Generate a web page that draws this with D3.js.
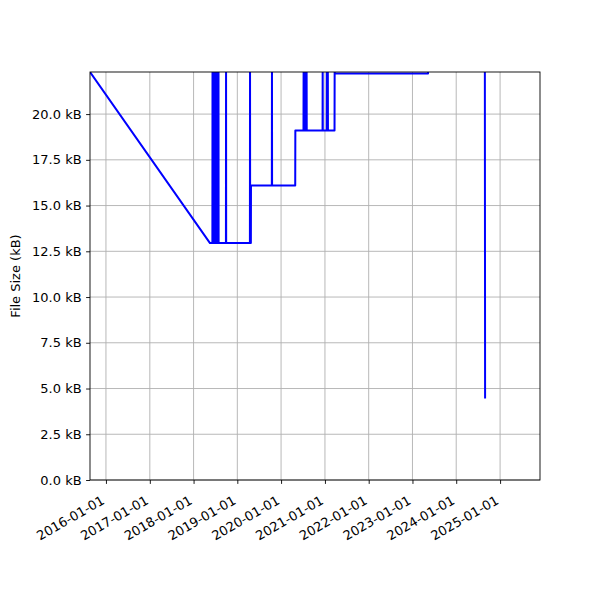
<!DOCTYPE html>
<html>
<head>
<meta charset="utf-8">
<script src="https://cdn.jsdelivr.net/npm/d3@7"></script>
<style>
    body { margin: 0; background: #fff; }
    text { font-family: "DejaVu Sans", sans-serif; font-size: 13px; fill: #000; }
</style>
</head>
<body>
<svg id="chart" width="600" height="600"></svg>
<script>
// commit dates and file size in kB
var dates = [
    "2015-08-21", "2018-05-18",
    "2018-06-07", "2018-06-08", "2018-06-09",
    "2018-06-15", "2018-06-16", "2018-06-17",
    "2018-06-24", "2018-06-25", "2018-06-26",
    "2018-07-02", "2018-07-03", "2018-07-04",
    "2018-07-11", "2018-07-12", "2018-07-13",
    "2018-07-19", "2018-07-20", "2018-07-21",
    "2018-07-27", "2018-07-28", "2018-07-29",
    "2018-09-28", "2018-09-29", "2018-09-30",
    "2019-04-16", "2019-04-17", "2019-04-18",
    "2019-04-24", "2019-04-25",
    "2019-10-16", "2019-10-17", "2019-10-18",
    "2020-04-28", "2020-04-29",
    "2020-07-06", "2020-07-07", "2020-07-08",
    "2020-07-14", "2020-07-15", "2020-07-16",
    "2020-07-23", "2020-07-24", "2020-07-25",
    "2020-07-31", "2020-08-01", "2020-08-02",
    "2020-12-12", "2020-12-13", "2020-12-14",
    "2021-01-16", "2021-01-17", "2021-01-18",
    "2021-01-24", "2021-01-25", "2021-01-26",
    "2021-03-22", "2021-03-23", "2021-03-24",
    "2023-05-11", "2023-05-12",
    "2024-08-27", "2024-08-29"
];
var sizes = [
    22.3, 12.95,
    12.95, 22.6, 12.95,
    12.95, 22.6, 12.95,
    12.95, 22.6, 12.95,
    12.95, 22.6, 12.95,
    12.95, 22.6, 12.95,
    12.95, 22.6, 12.95,
    12.95, 22.6, 12.95,
    12.95, 22.6, 12.95,
    12.95, 22.6, 12.95,
    12.95, 16.1,
    16.1, 22.6, 16.1,
    16.1, 19.1,
    19.1, 22.6, 19.1,
    19.1, 22.6, 19.1,
    19.1, 22.6, 19.1,
    19.1, 22.6, 19.1,
    19.1, 22.6, 19.1,
    19.1, 22.6, 19.1,
    19.1, 22.6, 19.1,
    19.1, 22.6, 22.22,
    22.22, 22.6,
    22.6, 4.45
];
var xTicks = ["2016-01-01", "2017-01-01", "2018-01-01", "2019-01-01", "2020-01-01",
    "2021-01-01", "2022-01-01", "2023-01-01", "2024-01-01", "2025-01-01"];
var yTicks = [0, 2.5, 5, 7.5, 10, 12.5, 15, 17.5, 20];
var xStart = "2015-08-21", xEnd = "2025-11-30";
var yMax = 22.3;

(function () {
    "use strict";
    var svg, parse, data, x, y, left, right, top, bottom, tick, g, line;

    left = 90;
    right = 540;
    top = 72;
    bottom = 480;
    tick = 3.9;

    parse = d3.utcParse("%Y-%m-%d");
    data = dates.map(function (d, i) {
        return {date: parse(d), size: sizes[i]};
    });

    x = d3.scaleUtc()
        .domain([parse(xStart), parse(xEnd)])
        .range([left, right]);
    y = d3.scaleLinear()
        .domain([0, yMax])
        .range([bottom, top]);

    svg = d3.select("#chart");

    svg.append("defs").append("clipPath")
        .attr("id", "plot")
        .append("rect")
        .attr("x", left)
        .attr("y", top)
        .attr("width", right - left)
        .attr("height", bottom - top);

    // grid
    svg.append("g")
        .selectAll("line")
        .data(xTicks)
        .enter().append("line")
        .attr("x1", function (d) { return x(parse(d)); })
        .attr("x2", function (d) { return x(parse(d)); })
        .attr("y1", top)
        .attr("y2", bottom)
        .attr("stroke", "#b0b0b0")
        .attr("stroke-width", 0.9);
    svg.append("g")
        .selectAll("line")
        .data(yTicks)
        .enter().append("line")
        .attr("x1", left)
        .attr("x2", right)
        .attr("y1", function (d) { return y(d); })
        .attr("y2", function (d) { return y(d); })
        .attr("stroke", "#b0b0b0")
        .attr("stroke-width", 0.9);

    line = d3.line()
        .x(function (d) { return x(d.date); })
        .y(function (d) { return y(d.size); });

    svg.append("path")
        .datum(data)
        .attr("clip-path", "url(#plot)")
        .attr("d", line)
        .attr("fill", "none")
        .attr("stroke", "#0000ff")
        .attr("stroke-width", 2)
        .attr("stroke-linejoin", "round");

    // x axis
    g = svg.append("g")
        .attr("transform", "translate(0," + bottom + ")")
        .call(d3.axisBottom(x)
            .tickValues(xTicks.map(parse))
            .tickSize(tick)
            .tickFormat(d3.utcFormat("%Y-%m-%d")));
    g.select(".domain").remove();
    g.selectAll(".tick line").attr("stroke", "#000").attr("stroke-width", 0.9);
    g.selectAll(".tick text")
        .attr("text-anchor", "end")
        .attr("font-family", null)
        .attr("font-size", null)
        .attr("x", 0)
        .attr("y", 0)
        .attr("dy", null)
        .attr("transform", "translate(-1,23) rotate(-30)");

    // y axis
    g = svg.append("g")
        .attr("transform", "translate(" + left + ",0)")
        .call(d3.axisLeft(y)
            .tickValues(yTicks)
            .tickSize(tick)
            .tickPadding(4.5)
            .tickFormat(function (d) { return d3.format(".1f")(d) + " kB"; }));
    g.select(".domain").remove();
    g.selectAll(".tick line").attr("stroke", "#000").attr("stroke-width", 0.9);
    g.selectAll(".tick text")
        .attr("font-family", null)
        .attr("font-size", null);

    svg.append("text")
        .attr("transform", "translate(20," + ((top + bottom) / 2) + ") rotate(-90)")
        .attr("text-anchor", "middle")
        .text("File Size (kB)");

    // frame
    svg.append("rect")
        .attr("x", left)
        .attr("y", top)
        .attr("width", right - left)
        .attr("height", bottom - top)
        .attr("fill", "none")
        .attr("stroke", "#000")
        .attr("stroke-width", 0.9);
}());
</script>
</body>
</html>
